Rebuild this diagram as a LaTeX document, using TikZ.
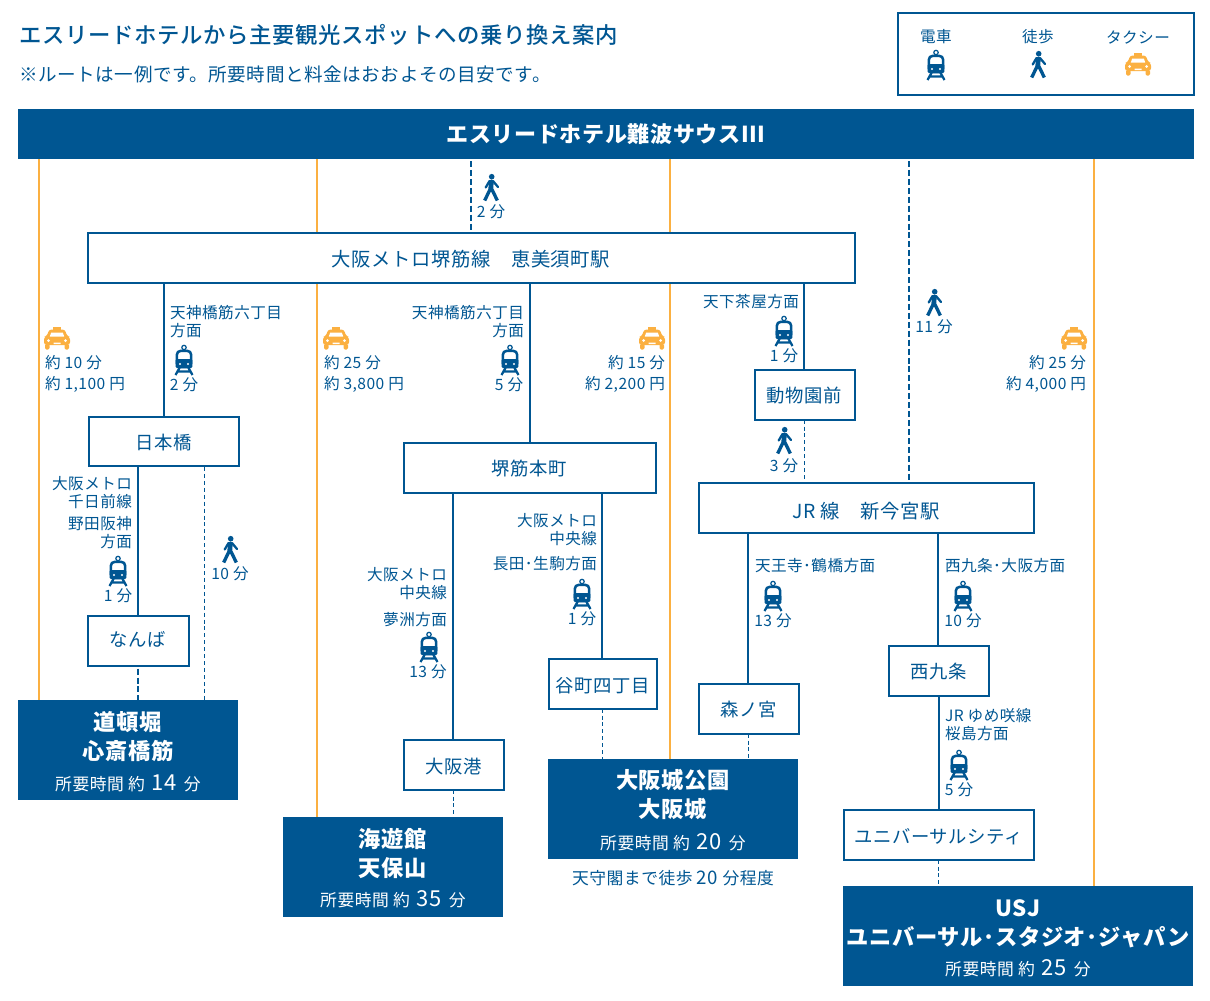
\documentclass[tikz,border=0pt]{standalone}
\usepackage{fontspec}
\usetikzlibrary{backgrounds}
\newfontfamily\jp[LetterSpace=3]{Noto Sans CJK JP}
\newfontfamily\jpm[LetterSpace=3]{Noto Sans CJK JP Medium}
\definecolor{navy}{HTML}{005692}
\definecolor{amber}{HTML}{FBB041}
\newcommand{\lowr}[2]{\raisebox{-#1}[0.88em][0.12em]{#2}}
\newcommand{\bigd}[1]{\hspace{2pt}{\fontsize{16.5}{18}\selectfont #1}\hspace{2pt}}
\tikzset{
  x=0.75pt, y=-0.75pt,
  wh/.style 2 args={minimum width=#1*0.75pt, minimum height=#2*0.75pt},
  stn/.style={draw=navy, line width=1.5pt, fill=white, inner sep=0pt, outer sep=0pt, text=navy, font=\jp\fontsize{13.76}{16}\selectfont},
  stnb/.style={stn, font=\jp\fontsize{14.5}{16}\selectfont},
  band/.style={fill=navy, inner sep=0pt, outer sep=0pt},
  lab/.style={inner sep=0pt, outer sep=0pt, text=navy, yshift=-0.75pt, font=\jp\fontsize{11.7}{13.5}\selectfont},
  lr/.style={lab, anchor=east, align=right},
  ll/.style={lab, anchor=west, align=left},
  desttxt/.style={inner sep=0pt, outer sep=0pt, text=white, font=\jp\bfseries\fontsize{16.7}{18}\selectfont},
  destsub/.style={inner sep=0pt, outer sep=0pt, text=white, font=\jp\fontsize{12.6}{14}\selectfont},
  rail/.style={draw=navy, line width=1.5pt},
  walkthick/.style={draw=navy, line width=1.5pt, dash pattern=on 4.5pt off 2.2pt},
  walkthin/.style={draw=navy, line width=0.8pt, dash pattern=on 3pt off 2.2pt},
  taxiline/.style={draw=amber, line width=1.65pt},
  train/.pic={
    \draw[navy, line width=0.9pt] (0,-12.5) circle[radius=2.2];
    \draw[navy, line width=1.9pt, fill=white, rounded corners=3pt] (-7.2,-9.2) -- (7.2,-9.2) -- (7.2,7) -- (-7.2,7) -- cycle;
    \fill[navy, rounded corners=1pt] (-8.4,-1) -- (8.4,-1) -- (8.4,8) -- (-8.4,8) -- cycle;
    \fill[white] (-4,4) circle[radius=1.2] (4,4) circle[radius=1.2];
    \draw[navy, line width=1.7pt] (-4,7) -- (-8.5,15) (4,7) -- (8.5,15) (-6,11.5) -- (6,11.5);
  },
  walk/.pic={
    \fill[navy] (0.7,-11.3) circle[radius=2.8];
    \draw[navy, line width=3.6pt, line cap=round] (0.3,-6) -- (-0.2,0.5);
    \draw[navy, line width=1.7pt, line cap=round] (-1.5,-7) -- (-5.3,-0.5) (2,-7) -- (7,-1);
    \draw[navy, line width=2.5pt, line join=round] (-6.3,12.5) -- (-1,1.5) -- (1,1.5) -- (6.3,12.5);
  },
  taxi/.pic={
    \fill[amber] (-4,-11.5) rectangle (4,-7);
    \fill[amber, rounded corners=2pt] (-8,-8.5) -- (8,-8.5) -- (10,-2) -- (13,-1) -- (13,7) -- (-13,7) -- (-13,-1) -- (-10,-2) -- cycle;
    \fill[amber, rounded corners=1pt] (-12,6) rectangle (-7.5,11.5) (7.5,6) rectangle (12,11.5);
    \fill[white] (-5.8,-5.5) -- (5.8,-5.5) -- (7.2,-1.5) -- (-7.2,-1.5) -- cycle;
    \fill[white] (-8.5,2.5) circle[radius=1.5] (8.5,2.5) circle[radius=1.5] (-3.5,4.5) rectangle (3.5,6);
  },
}
\begin{document}
\begin{tikzpicture}
\useasboundingbox (0,0) rectangle (1210,1000);
% heading
\node[inner sep=0pt, anchor=west, text=navy, yshift=-0.75pt, font=\jpm\fontsize{16.78}{18}\selectfont] (title) at (19,34) {エスリードホテルから主要観光スポットへの乗り換え案内};
\node[inner sep=0pt, anchor=west, text=navy, yshift=-0.75pt, font=\jp\fontsize{13.93}{16}\selectfont] (subtitle) at (19,73) {※ルートは一例です。所要時間と料金はおおよその目安です。};
% legend
\node[draw=navy, line width=1.5pt, inner sep=0pt, wh={296}{82}] (legend) at (1045.5,54) {};
\node[lab] (lgA) at (936,36) {電車};
\node[lab] (lgB) at (1038,36) {徒歩};
\node[lab] (lgC) at (1138,36) {タクシー};
\pic at (936,65) {train};
\pic at (1038,65) {walk};
\pic at (1138,64) {taxi};
% hotel band
\node[band, wh={1176}{50}, text=white, font=\jp\bfseries\fontsize{16.5}{18}\selectfont] (hotel) at (606,134) {エスリードホテル難波サウスIII};
% stations
\node[stnb, wh={767}{49.2}] (metro) at (471,258) {\lowr{0.75pt}{大阪メトロ堺筋線　恵美須町駅}};
\node[stn, wh={150}{49.8}] (nihon) at (163.5,441.5) {\lowr{0.75pt}{日本橋}};
\node[stn, wh={101}{49.2}] (namba) at (138,641) {\lowr{-1pt}{なんば}};
\node[stn, wh={252}{49.2}] (sakai) at (529.5,468) {\lowr{0.75pt}{堺筋本町}};
\node[stn, wh={100}{49.2}] (port) at (453.5,765) {\lowr{1.5pt}{大阪港}};
\node[stn, wh={108}{49.2}] (tani) at (602.5,684) {\lowr{1.5pt}{谷町四丁目}};
\node[stn, wh={100}{49.2}] (zoo) at (804.5,395) {\lowr{0.75pt}{動物園前}};
\node[stnb, wh={335}{49.2}] (jr) at (866,508) {\lowr{2.2pt}{JR 線　新今宮駅}};
\node[stn, wh={100}{49.2}] (mori) at (748.5,709) {\lowr{0.75pt}{森ノ宮}};
\node[stn, wh={100}{49.2}] (nishi) at (938.5,671) {\lowr{0.75pt}{西九条}};
\node[stn, wh={190}{49.2}] (univ) at (938.5,835) {\lowr{1.5pt}{ユニバーサルシティ}};
% destinations
\node[band, wh={220}{100}] (dA) at (128,750) {};
\node[band, wh={220}{100}] (dB) at (393,867) {};
\node[band, wh={250}{100}] (dC) at (673,809) {};
\node[band, wh={350}{100}] (dD) at (1018,936) {};
\node[desttxt] (dA1) at (128,722) {道頓堀};
\node[desttxt] (dA2) at (128,751) {心斎橋筋};
\node[destsub] (dA3) at (128,783) {所要時間 約 \bigd{14} 分};
\node[desttxt] (dB1) at (393,839) {海遊館};
\node[desttxt] (dB2) at (393,868) {天保山};
\node[destsub] (dB3) at (393,899) {所要時間 約 \bigd{35} 分};
\node[desttxt] (dC1) at (673,780) {大阪城公園};
\node[desttxt] (dC2) at (673,809) {大阪城};
\node[destsub] (dC3) at (673,842) {所要時間 約 \bigd{20} 分};
\node[lab, font=\jp\fontsize{12.6}{14}\selectfont] (dC4) at (673,877) {天守閣まで徒歩 {\fontsize{14}{14}\selectfont 20} 分程度};
\node[desttxt] (dD1) at (1018,908) {USJ};
\node[desttxt] (dD2) at (1018,937) {ユニバーサル･スタジオ･ジャパン};
\node[destsub] (dD3) at (1018,968) {所要時間 約 \bigd{25} 分};
% free-end coordinates on the band and boxes
\coordinate (oA) at (38.7,159);
\coordinate (oB) at (317.2,159);
\coordinate (oC) at (670.3,159);
\coordinate (oD) at (1094.3,159);
\coordinate (wA) at (471,161);
\coordinate (wB) at (909,161);
\coordinate (xA) at (204.5,467);
\coordinate (xB) at (453,493);
\coordinate (xC) at (602,493);
\coordinate (xD) at (748,533);
\coordinate (xE) at (938,533);
\coordinate (xF) at (138,467);
\coordinate (xG) at (804,283);
\coordinate (xH) at (530,283);
\coordinate (xI) at (164,283);
% connectors
\begin{pgfonlayer}{background}
\draw[taxiline] (oA) -- (oA |- dA.north);
\draw[taxiline] (oB) -- (oB |- dB.north);
\draw[taxiline] (oC) -- (oC |- dC.north);
\draw[taxiline] (oD) -- (oD |- dD.north);
\draw[walkthick] (wA) -- (wA |- metro.north);
\draw[walkthick] (wB) -- (wB |- jr.north);
\draw[rail] (xI) -- (nihon.north -| xI);
\draw[rail] (xH) -- (sakai.north -| xH);
\draw[rail] (xG) -- (zoo.north -| xG);
\draw[rail] (xF) -- (namba.north -| xF);
\draw[walkthin] (xA) -- (xA |- dA.north);
\draw[walkthick] (namba.south) ++(0,3) -- (namba.south |- dA.north);
\draw[rail] (xB) -- (port.north -| xB);
\draw[walkthin] (port.south) -- (port.south |- dB.north);
\draw[rail] (xC) -- (tani.north -| xC);
\draw[walkthin] (tani.south) -- (tani.south |- dC.north);
\draw[walkthin] (zoo.south) -- (zoo.south |- jr.north);
\draw[rail] (xD) -- (mori.north -| xD);
\draw[walkthin] (mori.south) -- (mori.south |- dC.north);
\draw[rail] (xE) -- (nishi.north -| xE);
\draw[rail] (nishi.south) -- (univ.north);
\draw[walkthin] (univ.south) -- (univ.south |- dD.north);
\end{pgfonlayer}
% labels along the routes
\pic at (491,188) {walk};
\node[lab] (t1) at (491,211) {2 分};
\pic at (57,338) {taxi};
\node[ll] (t2) at (45,362) {約 10 分};
\node[ll] (t3) at (45,383) {約 1,100 円};
\node[ll] (t4) at (170,321) {天神橋筋六丁目\\方面};
\pic at (184,360) {train};
\node[lab] (t5) at (184,384) {2 分};
\pic at (336,338) {taxi};
\node[ll] (t6) at (324,362) {約 25 分};
\node[ll] (t7) at (324,383) {約 3,800 円};
\node[lr] (t8) at (524,321) {天神橋筋六丁目\\方面};
\pic at (510,360) {train};
\node[lab] (t9) at (509,384) {5 分};
\pic at (652,338) {taxi};
\node[lr] (t10) at (665,362) {約 15 分};
\node[lr] (t11) at (665,383) {約 2,200 円};
\node[lr] (t12) at (799,301) {天下茶屋方面};
\pic at (784,331) {train};
\node[lab] (t13) at (784,355) {1 分};
\pic at (934,303) {walk};
\node[lab] (t14) at (934,326) {11 分};
\pic at (1074,338) {taxi};
\node[lr] (t15) at (1086,362) {約 25 分};
\node[lr] (t16) at (1086,383) {約 4,000 円};
\pic at (784,441) {walk};
\node[lab] (t17) at (784,465) {3 分};
\node[lr] (t18) at (132,492) {大阪メトロ\\千日前線};
\node[lr] (t19) at (132,532) {野田阪神\\方面};
\pic at (118,571) {train};
\node[lab] (t20) at (118,595) {1 分};
\pic at (230,550) {walk};
\node[lab] (t21) at (230,573) {10 分};
\node[lr] (t22) at (447,583) {大阪メトロ\\中央線};
\node[lr] (t23) at (447,619) {夢洲方面};
\pic at (429,647) {train};
\node[lab] (t24) at (428,671) {13 分};
\node[lr] (t25) at (597,529) {大阪メトロ\\中央線};
\node[lr] (t26) at (597,563) {長田･生駒方面};
\pic at (582,594) {train};
\node[lab] (t27) at (582,618) {1 分};
\node[ll] (t28) at (755,565) {天王寺･鶴橋方面};
\pic at (773,596) {train};
\node[lab] (t29) at (773,620) {13 分};
\node[ll] (t30) at (945,565) {西九条･大阪方面};
\pic at (963,596) {train};
\node[lab] (t31) at (963,620) {10 分};
\node[ll] (t32) at (945,724) {JR ゆめ咲線\\桜島方面};
\pic at (959,765) {train};
\node[lab] (t33) at (959,789) {5 分};
\end{tikzpicture}
\end{document}
